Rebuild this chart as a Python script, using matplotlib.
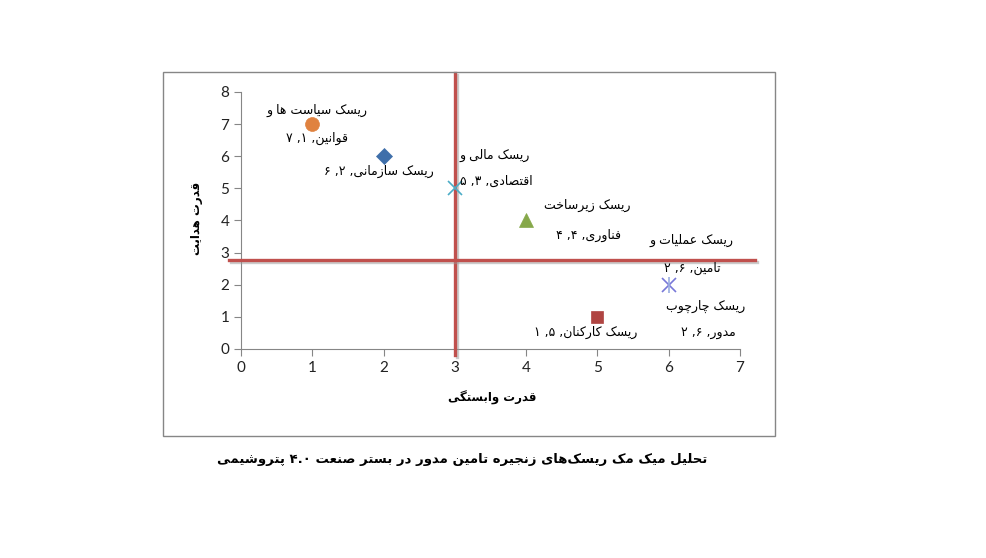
import matplotlib
matplotlib.use("Agg")
import matplotlib.pyplot as plt
import matplotlib.patheffects as pe

# ---- data ---------------------------------------------------------------
dependence = [1, 2, 3, 4, 5, 6]          # قدرت وابستگی
driving = [7, 6, 5, 4, 1, 2]             # قدرت هدایت
markers = ["o", "D", "x", "^", "s", "x"]
colors = ["#E0823F", "#3F6FAA", "#4BACC6", "#86A84A", "#B04542", "#7878D8"]
sizes = [10, 8, 10, 10, 9, 10]

# label lines (logical order) and where each line sits (data coords)
label_lines = [
    ("ریسک سیاست ها و", 1.07, 7.41), ("قوانین, ۱, ۷", 1.07, 6.54),
    ("ریسک سازمانی, ۲, ۶", 1.94, 5.54),
    ("ریسک مالی و", 3.56, 6.01), ("اقتصادی, ۳, ۵", 3.58, 5.23),
    ("ریسک زیرساخت", 4.85, 4.48), ("فناوری, ۴, ۴", 4.87, 3.55),
    ("ریسک عملیات و", 6.32, 3.39), ("تامین, ۶, ۲", 6.33, 2.52),
    ("ریسک چارچوب", 6.52, 1.31), ("مدور, ۶, ۲", 6.55, 0.50),
    ("ریسک کارکنان, ۵, ۱", 4.83, 0.50),
]
x_ticks = [0, 1, 2, 3, 4, 5, 6, 7]
y_ticks = [0, 1, 2, 3, 4, 5, 6, 7, 8]
x_cut, y_cut = 3.0, 2.77                 # خطوط تقسیم ربع‌ها

XLABEL = "قدرت وابستگی"
YLABEL = "قدرت هدایت"
TITLE = "تحلیل میک مک ریسک‌های زنجیره تامین مدور در بستر صنعت ۴.۰ پتروشیمی"

# ---- minimal arabic/persian shaping (no reshaper lib available) ---------
# char: (isol, fina, init, medi) ; None init => joins only to the right
FORMS = {
    "ا": (0xFE8D, 0xFE8E, None, None), "ب": (0xFE8F, 0xFE90, 0xFE91, 0xFE92),
    "ت": (0xFE95, 0xFE96, 0xFE97, 0xFE98), "ث": (0xFE99, 0xFE9A, 0xFE9B, 0xFE9C),
    "ج": (0xFE9D, 0xFE9E, 0xFE9F, 0xFEA0), "ح": (0xFEA1, 0xFEA2, 0xFEA3, 0xFEA4),
    "خ": (0xFEA5, 0xFEA6, 0xFEA7, 0xFEA8), "د": (0xFEA9, 0xFEAA, None, None),
    "ذ": (0xFEAB, 0xFEAC, None, None), "ر": (0xFEAD, 0xFEAE, None, None),
    "ز": (0xFEAF, 0xFEB0, None, None), "س": (0xFEB1, 0xFEB2, 0xFEB3, 0xFEB4),
    "ش": (0xFEB5, 0xFEB6, 0xFEB7, 0xFEB8), "ص": (0xFEB9, 0xFEBA, 0xFEBB, 0xFEBC),
    "ض": (0xFEBD, 0xFEBE, 0xFEBF, 0xFEC0), "ط": (0xFEC1, 0xFEC2, 0xFEC3, 0xFEC4),
    "ظ": (0xFEC5, 0xFEC6, 0xFEC7, 0xFEC8), "ع": (0xFEC9, 0xFECA, 0xFECB, 0xFECC),
    "غ": (0xFECD, 0xFECE, 0xFECF, 0xFED0), "ف": (0xFED1, 0xFED2, 0xFED3, 0xFED4),
    "ق": (0xFED5, 0xFED6, 0xFED7, 0xFED8), "ل": (0xFEDD, 0xFEDE, 0xFEDF, 0xFEE0),
    "م": (0xFEE1, 0xFEE2, 0xFEE3, 0xFEE4), "ن": (0xFEE5, 0xFEE6, 0xFEE7, 0xFEE8),
    "ه": (0xFEE9, 0xFEEA, 0xFEEB, 0xFEEC), "و": (0xFEED, 0xFEEE, None, None),
    "ي": (0xFEF1, 0xFEF2, 0xFEF3, 0xFEF4), "پ": (0xFB56, 0xFB57, 0xFB58, 0xFB59),
    "چ": (0xFB7A, 0xFB7B, 0xFB7C, 0xFB7D), "ژ": (0xFB8A, 0xFB8B, None, None),
    "ک": (0xFB8E, 0xFB8F, 0xFB90, 0xFB91), "گ": (0xFB92, 0xFB93, 0xFB94, 0xFB95),
    "ی": (0xFBFC, 0xFBFD, 0xFBFE, 0xFBFF),
}
DIGITS = set("۰۱۲۳۴۵۶۷۸۹0123456789")


def fa(s):
    out = []
    for i, ch in enumerate(s):
        if ch not in FORMS:
            if ch != "\u200c":
                out.append(ch)
            continue
        prev = s[i - 1] if i > 0 else ""
        nxt = s[i + 1] if i + 1 < len(s) else ""
        isol, fina, init, medi = FORMS[ch]
        jp = prev in FORMS and FORMS[prev][2] is not None
        jn = init is not None and nxt in FORMS
        if jp and jn:
            out.append(chr(medi))
        elif jp:
            out.append(chr(fina))
        elif jn:
            out.append(chr(init))
        else:
            out.append(chr(isol))
    vis = "".join(out)[::-1]
    # keep number runs (e.g. ۴.۰) left-to-right
    res, run = [], ""
    for c in vis:
        if c in DIGITS or (c == "." and run):
            run += c
        else:
            res.append(run[::-1]); run = ""
            res.append(c)
    res.append(run[::-1])
    return "".join(res)


# ---- figure -------------------------------------------------------------
fig = plt.figure(figsize=(9.87, 5.58), dpi=100)
fig.patch.set_facecolor("white")
fig.add_artist(plt.Rectangle((0.1651, 0.2186), 0.620, 0.6523, fill=False,
                             edgecolor="#868686", linewidth=1.0, transform=fig.transFigure))

ax = fig.add_axes([0.2442, 0.3746, 0.5056, 0.4606])
ax.set_xlim(0, 7)
ax.set_ylim(0, 8)
ax.set_xticks(x_ticks)
ax.set_yticks(y_ticks)
for sp in ("top", "right"):
    ax.spines[sp].set_visible(False)
for sp in ("left", "bottom"):
    ax.spines[sp].set_color("#868686")
ax.tick_params(direction="out", length=5, color="#868686", labelsize=11,
               labelcolor="#222222")
for lab in ax.get_xticklabels() + ax.get_yticklabels():
    lab.set_family("Lato")

for x, y, m, c, s in zip(dependence, driving, markers, colors, sizes):
    ax.plot([x], [y], marker=m, color=c, markersize=s, linestyle="none",
            markeredgewidth=1.2 if m == "x" else 0.5, zorder=5)
# excel "star" marker = x + vertical bar
ax.plot([dependence[-1]], [driving[-1]], marker="|", color="#9AAEE0",
        markersize=12, markeredgewidth=1.2, linestyle="none", zorder=5)

for txt, x, y in label_lines:
    ax.text(x, y, fa(txt), ha="center", va="center", fontsize=9,
            family="DejaVu Sans", color="black", zorder=6)

shadow = [pe.SimpleLineShadow(offset=(1.5, -1.5), shadow_color="#999999", alpha=0.5),
          pe.Normal()]
ax.plot([x_cut, x_cut], [-0.19, 8.59], color="#C0504D", linewidth=2.4,
        clip_on=False, zorder=4, path_effects=shadow)
ax.plot([-0.17, 7.21], [y_cut, y_cut], color="#C0504D", linewidth=2.4,
        clip_on=False, zorder=4, path_effects=shadow)

fig.text(492 / 987, 1 - 398 / 558, fa(XLABEL), ha="center", va="center",
         fontsize=8.5, fontweight="bold", family="DejaVu Sans")
fig.text(197 / 987, 1 - 218 / 558, fa(YLABEL), ha="center", va="center",
         rotation=90, fontsize=8.5, fontweight="bold", family="DejaVu Sans")
fig.text(462 / 987, 1 - 460 / 558, fa(TITLE), ha="center", va="center",
         fontsize=9.5, fontweight="bold", family="DejaVu Sans")

fig.savefig("out.png", dpi=100, facecolor="white")
